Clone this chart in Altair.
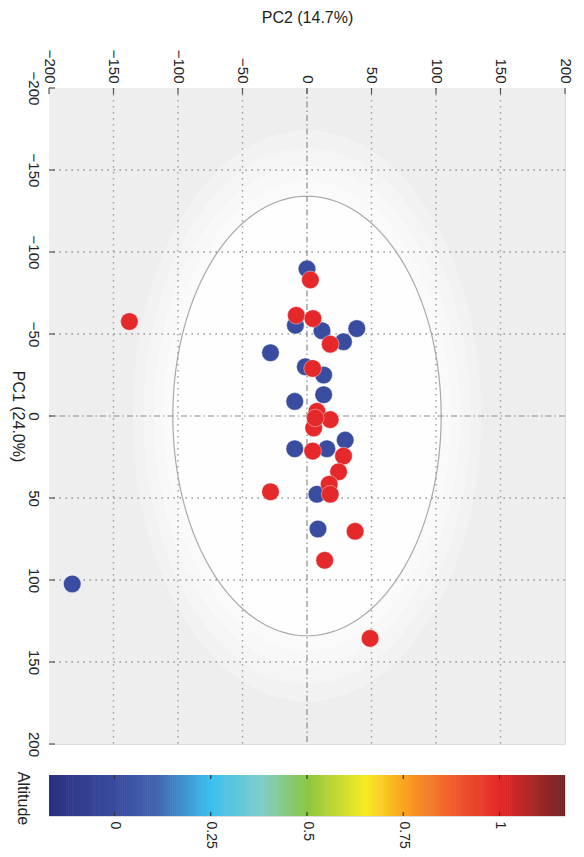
import altair as alt
import pandas as pd

# ---------------- data ----------------
TICKS = [-200, -150, -100, -50, 0, 50, 100, 150, 200]
GRID = [-150, -100, -50, 50, 100, 150]

blue_pc2 = [0, -9, 11.6, 38.6, 28.3, -28.3, -1.3, 12.9, 12.9, -9.5, -9.5, 15.4, 29.6, 7.7, 8.5, -182]
blue_pc1 = [-89.7, -55.3, -52, -53.3, -45.3, -38.6, -30, -25, -13, -8.9, 20, 20, 14.7, 47.7, 68.9, 102.4]
red_pc2 = [2.6, -8.3, 4.6, 18, 4.4, -137.7, 7.7, 18, 5.2, 6.4, 4.4, 28.3, 24.5, 17.2, 18, -28.3, 37.3, 13.7, 48.9]
red_pc1 = [-83, -61.4, -59.4, -43.8, -29, -57.6, -2.8, 2.2, 7.3, 1.2, 21.4, 24.4, 34, 41.6, 47.7, 46.2, 70.3, 88, 135.6]
blue_alt = 0.0
red_alt = 1.0

# confidence ellipse half-axes (PC2, PC1)
ELL_A = 104
ELL_B = 134
HALO = [1.3, 1.22, 1.14, 1.07]

CB_TICKS = [0, 0.25, 0.5, 0.75, 1]
CB_DOMAIN = [-0.17, 1.17]
CB_STOPS = [-0.17, 0.0, 0.1, 0.25, 0.38, 0.5, 0.65, 0.75, 0.88, 1.0, 1.17]
CB_COLORS = ["#2c3181", "#3a4c9f", "#4362ad", "#3cc0ef", "#7fcdc8", "#8dc63f",
             "#f7ec22", "#f9a11f", "#ef5a2e", "#e5282a", "#6e2524"]

FONT = "Liberation Sans"
W, H = 516, 656
CBH = 41

pts = pd.DataFrame({
    "pc2": blue_pc2 + red_pc2,
    "pc1": blue_pc1 + red_pc1,
    "alt": [blue_alt] * len(blue_pc2) + [red_alt] * len(red_pc2),
    "ord": [0] * len(blue_pc2) + [1] * len(red_pc2),
})

xscale = alt.Scale(domain=[-200, 200], nice=False, zero=False)
yscale = alt.Scale(domain=[-200, 200], nice=False, zero=False, reverse=True)
color_scale = alt.Scale(domain=CB_STOPS, range=CB_COLORS, interpolate="rgb")

x_axis = alt.Axis(orient="top", values=TICKS, grid=False, ticks=False, domain=False,
                  labelAngle=90, labelAlign="right", labelBaseline="middle",
                  labelPadding=5, labelFontSize=15, labelColor="#222",
                  title="PC2 (14.7%)", titleFontSize=16, titleFontWeight="normal",
                  titleColor="#222", titlePadding=24)
y_axis = alt.Axis(orient="left", values=TICKS, grid=False, ticks=False, domain=False,
                  labelAngle=90, labelAlign="center", labelBaseline="top",
                  labelPadding=9, labelFontSize=15, labelColor="#222",
                  title="PC1 (24.0%)", titleAngle=90, titleBaseline="top",
                  titleFontSize=16, titleFontWeight="normal", titleColor="#222",
                  titlePadding=0)

X = lambda f="pc2": alt.X(f"{f}:Q", scale=xscale, axis=x_axis, title="PC2 (14.7%)")
Y = lambda f="pc1": alt.Y(f"{f}:Q", scale=yscale, axis=y_axis, title="PC1 (24.0%)")


def ellipse_area(k, color, opacity):
    return (alt.Chart(alt.sequence(0, 181, 2, as_="t"))
            .transform_calculate(
                pc2=f"{ELL_A * k}*cos(datum.t*PI/180)",
                pc1=f"{ELL_B * k}*sin(datum.t*PI/180)",
                pc1b=f"-{ELL_B * k}*sin(datum.t*PI/180)")
            .mark_area(fill=color, fillOpacity=opacity, opacity=1, strokeWidth=0)
            .encode(x=X(), y=Y(), y2="pc1b:Q"))


bg = (alt.Chart(pd.DataFrame({"b": [0]}))
      .mark_rect(fill="#eeeeee", opacity=1)
      .encode(x=alt.value(0), x2=alt.value(W), y=alt.value(0), y2=alt.value(H)))
layers = [bg]
layers += [ellipse_area(k, "#ffffff", 0.28) for k in HALO]
layers.append(ellipse_area(1.0, "#fefefe", 1.0))

outline = (alt.Chart(alt.sequence(0, 361, 2, as_="t"))
           .transform_calculate(pc2=f"{ELL_A}*cos(datum.t*PI/180)",
                                pc1=f"{ELL_B}*sin(datum.t*PI/180)")
           .mark_line(color="#a9a9a9", strokeWidth=1.2)
           .encode(x=X(), y=Y(), order="t:Q"))
layers.append(outline)

grid_df = pd.DataFrame({"g": GRID})
vgrid = (alt.Chart(grid_df).transform_calculate(pc2="datum.g")
         .mark_rule(color="#9a9a9a", strokeDash=[1.6, 4.4], strokeWidth=1.4)
         .encode(x=X()))
hgrid = (alt.Chart(grid_df).transform_calculate(pc1="datum.g")
         .mark_rule(color="#9a9a9a", strokeDash=[1.6, 4.4], strokeWidth=1.4)
         .encode(y=Y()))
zero_df = pd.DataFrame({"z": [0]})
vzero = (alt.Chart(zero_df).transform_calculate(pc2="datum.z")
         .mark_rule(color="#8a8a8a", strokeDash=[6, 3, 1.5, 3], strokeWidth=1.2)
         .encode(x=X()))
hzero = (alt.Chart(zero_df).transform_calculate(pc1="datum.z")
         .mark_rule(color="#8a8a8a", strokeDash=[6, 3, 1.5, 3], strokeWidth=1.2)
         .encode(y=Y()))
tick_df = pd.DataFrame({"g": TICKS})
top_ticks = (alt.Chart(tick_df).transform_calculate(pc2="datum.g")
             .mark_rule(color="#555", strokeWidth=1.2)
             .encode(x=X(), y=alt.value(0), y2=alt.value(6)))
left_ticks = (alt.Chart(tick_df).transform_calculate(pc1="datum.g")
              .mark_rule(color="#555", strokeWidth=1.2)
              .encode(y=Y(), x=alt.value(0), x2=alt.value(6)))
layers += [vgrid, hgrid, vzero, hzero, top_ticks, left_ticks]

points = (alt.Chart(pts)
          .mark_circle(size=310, opacity=1, stroke="#ffffff", strokeWidth=0.8, strokeOpacity=0.5)
          .encode(x=X(), y=Y(),
                  color=alt.Color("alt:Q", scale=color_scale, legend=None),
                  order=alt.Order("ord:Q")))
layers.append(points)

main = alt.layer(*layers).properties(width=W, height=H)

# ---------------- colour bar ----------------
cb_axis = alt.Axis(orient="bottom", values=CB_TICKS, format=".2~f", grid=False, ticks=False,
                   domain=False, labelAngle=90, labelAlign="left", labelBaseline="middle",
                   labelPadding=5, labelFontSize=14, labelColor="#222", title=None)
cbx = alt.Scale(domain=CB_DOMAIN, nice=False, zero=False)

cb_rect = (alt.Chart(alt.sequence(CB_DOMAIN[0], CB_DOMAIN[1], 0.005, as_="alt"))
           .transform_calculate(alt2="datum.alt + 0.0065")
           .mark_rect(clip=True)
           .encode(x=alt.X("alt:Q", scale=cbx, axis=cb_axis),
                   x2="alt2:Q",
                   y=alt.value(0), y2=alt.value(CBH),
                   color=alt.Color("alt:Q", scale=color_scale, legend=None)))
cbt_df = pd.DataFrame({"alt": CB_TICKS})
cb_t1 = (alt.Chart(cbt_df).mark_rule(color="#333", strokeWidth=1.2)
         .encode(x=alt.X("alt:Q", scale=cbx, axis=cb_axis), y=alt.value(0), y2=alt.value(4)))
cb_t2 = (alt.Chart(cbt_df).mark_rule(color="#333", strokeWidth=1.2)
         .encode(x=alt.X("alt:Q", scale=cbx, axis=cb_axis), y=alt.value(CBH - 4), y2=alt.value(CBH)))
cb_title = (alt.Chart(pd.DataFrame({"t": ["Altitude"]}))
            .mark_text(angle=90, align="center", baseline="middle", fontSize=16, color="#222", font=FONT)
            .encode(text="t:N", x=alt.value(-26), y=alt.value(CBH / 2 + 3)))
cbar = alt.layer(cb_rect, cb_t1, cb_t2, cb_title).properties(width=W, height=CBH)

chart = (alt.vconcat(main, cbar, spacing=31, bounds="flush")
         .properties(padding=0)
         .configure_view(stroke="#444", strokeWidth=1.3)
         .configure(font=FONT, background="white"))

chart.save("out.html", embed_options={"renderer": "svg", "actions": False})
